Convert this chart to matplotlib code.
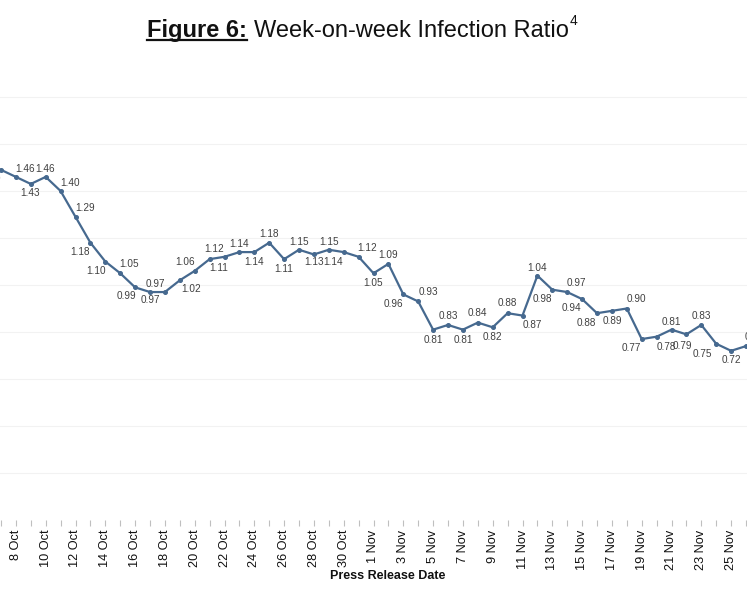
import numpy as np
import matplotlib
matplotlib.use("Agg")
import matplotlib.pyplot as plt
from matplotlib.lines import Line2D

plt.rcParams['font.family'] = ['Liberation Sans', 'DejaVu Sans']

# press release dates (daily) and week-on-week infection ratio
dates = ['7 Oct', '8 Oct', '9 Oct', '10 Oct', '11 Oct', '12 Oct', '13 Oct', '14 Oct',
         '15 Oct', '16 Oct', '17 Oct', '18 Oct', '19 Oct', '20 Oct', '21 Oct', '22 Oct',
         '23 Oct', '24 Oct', '25 Oct', '26 Oct', '27 Oct', '28 Oct', '29 Oct', '30 Oct',
         '31 Oct', '1 Nov', '2 Nov', '3 Nov', '4 Nov', '5 Nov', '6 Nov', '7 Nov',
         '8 Nov', '9 Nov', '10 Nov', '11 Nov', '12 Nov', '13 Nov', '14 Nov', '15 Nov',
         '16 Nov', '17 Nov', '18 Nov', '19 Nov', '20 Nov', '21 Nov', '22 Nov', '23 Nov',
         '24 Nov', '25 Nov', '26 Nov']
ratio = [1.49, 1.46, 1.43, 1.46, 1.40, 1.29, 1.18, 1.10,
         1.05, 0.99, 0.97, 0.97, 1.02, 1.06, 1.11, 1.12,
         1.14, 1.14, 1.18, 1.11, 1.15, 1.13, 1.15, 1.14,
         1.12, 1.05, 1.09, 0.96, 0.93, 0.81, 0.83, 0.81,
         0.84, 0.82, 0.88, 0.87, 1.04, 0.98, 0.97, 0.94,
         0.88, 0.89, 0.90, 0.77, 0.78, 0.81, 0.79, 0.83,
         0.75, 0.72, 0.74]

# where each value label sits relative to its point (pixels, +dy = downwards)
label_off = [(-10, 9), (9, -8), (-1, 9), (-1, -8), (9, -8), (10, -9), (-10, 9), (-9, 9),
             (9, -9), (-9, 9), (5, -8), (-15, 8), (11, 9), (-10, -9), (9, 9), (-10, -8),
             (0, -8), (0, 10), (0, -9), (0, 10), (0, -8), (0, 8), (0, -8), (-11, 10),
             (8, -9), (0, 10), (0, -9), (-10, 10), (10, -9), (0, 10), (0, -9), (0, 10),
             (0, -10), (0, 10), (0, -10), (10, 9), (0, -8), (-10, 9), (9, -9), (-11, 9),
             (-11, 10), (0, 10), (10, -9), (-10, 9), (10, 10), (0, -8), (-4, 12), (0, -9),
             (-14, 10), (0, 9), (8, -9)]

W, H = 747, 598
fig = plt.figure(figsize=(W / 100, H / 100), dpi=100)
ax = fig.add_axes([0, 78 / H, 1, 470 / H])

days = np.arange(len(dates))
ax.plot(days, ratio, color='#46698f', lw=1.6, marker='o', ms=2.6, zorder=3)

for d, v, (dx, dy) in zip(days, ratio, label_off):
    ax.annotate(f'{v:.2f}', (d, v), xytext=(dx, -dy), textcoords='offset pixels',
                ha='center', va='center', fontsize=7.2, color='#404040',
                annotation_clip=False)

ax.set_xlim(-1 / 14.9, 746 / 14.9)
ax.set_ylim(0, 2.0)
ax.set_yticks(np.arange(0.2, 1.81, 0.2))
ax.yaxis.grid(True, color='#f2f2f2', lw=0.8)
ax.tick_params(axis='y', left=False, labelleft=False)
for s in ax.spines.values():
    s.set_visible(False)

ax.set_xticks(days)
ax.set_xticklabels([lab if i % 2 == 1 else '' for i, lab in enumerate(dates)],
                   rotation=90, fontsize=9.2, color='#111111')
ax.tick_params(axis='x', length=4, width=0.8, color='#bfbfbf', pad=3)

fig.text(388 / W, 22 / H, 'Press Release Date', ha='center', va='center',
         fontsize=9, fontweight='bold', color='#111111')

# title: bold underlined part, regular part, superscript
r = fig.canvas.get_renderer()
base_y = 1 - 36.7 / H
t1 = fig.text(147 / W, base_y, 'Figure 6:', fontsize=17, fontweight='bold',
              va='baseline', color='#111111')
bb1 = t1.get_window_extent(r)
fig.add_artist(Line2D([bb1.x0 / W, bb1.x1 / W], [1 - 40 / H, 1 - 40 / H],
                      transform=fig.transFigure, color='#111111', lw=1.6))
t2 = fig.text((bb1.x1 + 7) / W, base_y, 'Week-on-week Infection Ratio', fontsize=17,
              va='baseline', color='#111111')
bb2 = t2.get_window_extent(r)
fig.text((bb2.x1 + 1) / W, 1 - 25 / H, '4', fontsize=10, va='baseline', color='#111111')

fig.savefig('out.png', dpi=100)
